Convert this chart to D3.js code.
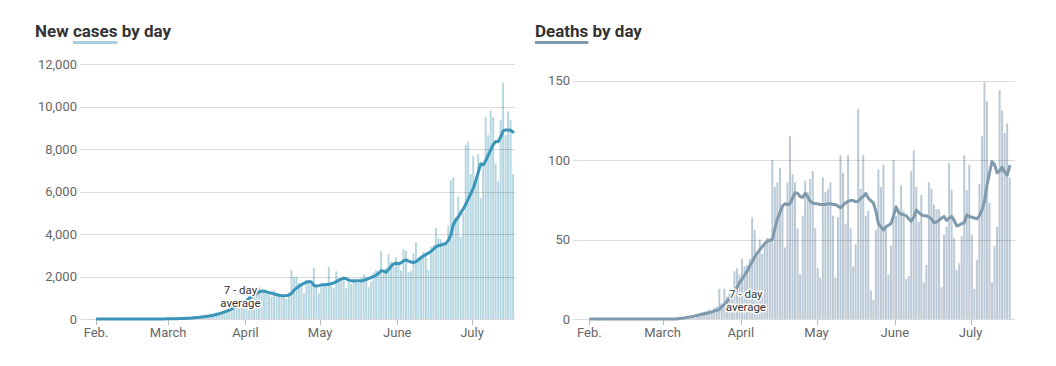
<!DOCTYPE html>
<html><head><meta charset="utf-8">
<script src="https://cdn.jsdelivr.net/npm/d3@7"></script>
<style>
body{margin:0;background:#fff;}
svg text{font-family:Roboto,"Noto Sans",sans-serif;}
</style></head><body>
<svg id="c" width="1056" height="366"></svg>
<script>
// ---------- DATA ----------
const firstDay = new Date(2020, 1, 1);   // Feb 1, 2020 (day index 0)
const monthTicks = [new Date(2020,1,1), new Date(2020,2,1), new Date(2020,3,1), new Date(2020,4,1), new Date(2020,5,1), new Date(2020,6,1)];
const monthLabels = ["Feb.", "March", "April", "May", "June", "July"];
const caseTicks = [0, 2000, 4000, 6000, 8000, 10000, 12000];
const deathTicks = [0, 50, 100, 150];

const casesDaily = [
  // Feb
  0,0,1,0,0,0,0,0,1,0,0,0,0,0,0,0,0,0,0,0,0,0,2,3,4,5,6,8,10,
  // March
  8,10,14,16,20,25,30,38,45,55,65,75,90,105,125,145,165,190,215,245,280,310,350,400,450,500,560,620,700,760,830,
  // April
  900,1100,1200,1250,1300,1500,1350,1300,1250,1200,1050,1350,1150,1100,1100,1050,950,1250,2300,1950,2000,1700,1650,1200,1850,1750,1600,2400,1500,1200,
  // May
  1500,1700,1600,2450,1550,1450,2250,1900,1800,2000,1450,1750,1650,1900,1800,1700,1950,2100,2000,1500,1750,2200,2300,2250,3200,2150,2400,3050,2700,2450,2900,
  // June
  2700,2300,3300,3200,2200,2250,3100,3600,2800,3000,3150,3050,2300,3400,3450,4300,3800,3750,3600,3600,4400,6540,6670,4800,5760,3870,4980,8190,8340,6820,
  // July
  7670,6700,7765,5690,7250,9500,8660,9800,9500,7325,6500,9380,11130,8660,9780,9360,6820
];
const casesAvg = [
  0,0,0,0,0,0,0,0,0,0,0,0,0,0,0,0,0,0,0,0,0,0,1,1,2,3,4,5,7,
  8,10,12,15,18,22,27,33,40,48,57,67,78,92,108,125,145,167,192,220,250,285,325,370,420,475,535,600,670,740,810,
  880,960,1040,1120,1200,1270,1320,1310,1280,1240,1210,1180,1150,1120,1100,1100,1110,1130,1200,1360,1450,1540,1620,1680,1730,1760,1740,1580,1550,1570,
  1600,1610,1620,1640,1660,1700,1760,1830,1880,1920,1900,1830,1800,1790,1800,1800,1790,1820,1860,1900,1960,2000,2060,2150,2270,2250,2200,2330,2480,2590,2620,
  2600,2640,2740,2780,2720,2680,2660,2700,2790,2880,2960,3040,3100,3180,3280,3400,3450,3480,3510,3560,3700,3950,4450,4650,4800,5000,5180,5400,5650,5900,
  6150,6500,6900,7300,7250,7450,7700,7950,8200,8350,8340,8550,8850,8900,8900,8880,8800
];
const deathsDaily = [
  // Feb
  0,0,0,0,0,0,0,0,0,0,0,0,0,0,0,0,0,0,0,0,0,0,0,0,0,0,0,0,0,
  // March
  0,0,0,0,0,0,1,0,1,1,1,2,1,3,2,4,3,5,6,4,7,8,19,10,19,14,16,16,30,32,28,
  // April
  38,33,34,38,64,56,40,50,41,48,51,50,100,83,86,95,70,45,86,115,91,86,57,28,65,87,80,88,93,57,
  // May
  32,26,89,80,82,86,65,26,64,103,92,60,103,57,33,47,132,82,103,65,68,18,12,56,94,83,97,58,28,46,100,
  // June
  65,67,84,68,25,27,93,106,83,61,78,23,34,86,82,72,69,69,20,53,58,98,81,51,31,35,52,103,81,97,
  // July
  53,19,37,85,115,149,137,73,23,46,58,144,131,117,123,89
];
const deathsAvg = [
  0,0,0,0,0,0,0,0,0,0,0,0,0,0,0,0,0,0,0,0,0,0,0,0,0,0,0,0,0,
  0,0,0,0,0,0,0.3,0.5,0.7,1,1.2,1.5,1.8,2.2,2.6,3,3.3,3.6,4,4.5,5,5.5,6,8,9,11,13,15,17,20,23,
  25,27.5,30,33,36,39,41.5,43.5,45.5,47.5,49,49.5,50,57,63,67,71,72.5,72,72.5,76,79.5,79,77,76.5,79,77,74,73,72.5,
  72.5,72,72,72,72.5,72.5,72,72,71,70,71.5,73,74,74.5,74.5,73.8,74,76,77,79,76,74.5,73,68,60,58,56,58,59,60,65,
  70.5,67,66,65.5,65,63,61.5,64,68.5,67,65.5,65,65,64,63,60.5,61,62,63.5,64.5,62,63.5,64.5,62,58.5,59,60,60.5,65.5,
  64.5,64,63.5,63,65,68.5,74,84,92,99,97,92,93,95.5,92.5,90.5,96
];

// ---------- DRAW ----------
const svg = d3.select("#c");
const nDays = casesDaily.length;
const days = d3.range(nDays).map(i => d3.timeDay.offset(firstDay, i));
const lastEdge = d3.timeDay.offset(firstDay, nDays);

function panel(o) {
  const g = svg.append("g");
  const x = d3.scaleTime().domain([firstDay, lastEdge]).range(o.xr);
  const y = d3.scaleLinear().domain([0, d3.max(o.ticks)]).range(o.yr);
  const bw = x(days[1]) - x(days[0]);

  // title
  const t = g.append("text").attr("x", o.tx).attr("y", 37)
    .attr("font-size", 17).attr("font-weight", "bold").attr("fill", "#333");
  o.title.forEach(p => t.append("tspan").text(p));
  const tn = t.node();
  const pre = o.title.slice(0, o.ui).join("");
  const startX = o.tx + (pre.length ? tn.getSubStringLength(0, pre.length) : 0);
  const wLen = tn.getSubStringLength(pre.length, o.title[o.ui].length);
  g.append("rect").attr("x", startX).attr("y", 41).attr("width", wLen).attr("height", 3).attr("fill", o.ucol);

  // bars
  g.append("g").selectAll("rect").data(o.daily).join("rect")
    .attr("x", (d, i) => x(days[i]) + 0.25)
    .attr("width", bw - 0.55)
    .attr("y", d => y(d))
    .attr("height", d => y(0) - y(d))
    .attr("fill", o.barCol);

  // grid
  g.append("g").selectAll("line").data(o.ticks).join("line")
    .attr("x1", o.gx[0]).attr("x2", o.gx[1])
    .attr("y1", d => Math.round(y(d)) + 0.5).attr("y2", d => Math.round(y(d)) + 0.5)
    .attr("stroke", "#000").attr("stroke-opacity", 0.14);
  g.append("g").selectAll("text").data(o.ticks).join("text")
    .attr("x", o.lx).attr("y", d => y(d) + 4.5)
    .attr("text-anchor", "end").attr("font-size", 13).attr("fill", "#666")
    .text(d => d3.format(",")(d));

  // x axis
  g.append("g").selectAll("line").data(monthTicks).join("line")
    .attr("x1", d => Math.round(x(d)) + 0.5).attr("x2", d => Math.round(x(d)) + 0.5)
    .attr("y1", o.yr[0] + 1).attr("y2", o.yr[0] + 6).attr("stroke", "#bbb");
  g.append("g").selectAll("text").data(monthTicks).join("text")
    .attr("x", d => x(d)).attr("y", 337)
    .attr("text-anchor", "middle").attr("font-size", 13).attr("fill", "#666")
    .text((d, i) => monthLabels[i]);

  // avg line
  const line = d3.line().x((d, i) => x(days[i]) + bw / 2).y(d => y(d));
  g.append("path").datum(o.avg).attr("d", line)
    .attr("fill", "none").attr("stroke", o.lineCol).attr("stroke-width", 3)
    .attr("stroke-linejoin", "round").attr("stroke-linecap", "round");

  // annotation (two lines, halo knocks out marks behind)
  const ax = x(d3.timeDay.offset(firstDay, o.labDay));
  ["7 - day", "average"].forEach((s, k) => {
    g.append("text").attr("x", ax).attr("y", o.labY + k * 13)
      .attr("text-anchor", "middle").attr("font-size", 11.5)
      .attr("fill", "#333").attr("stroke", "#fff").attr("stroke-width", 3)
      .attr("paint-order", "stroke").attr("stroke-linejoin", "round")
      .text(s);
  });
}

panel({
  xr: [96, 96 + nDays * 2.49], yr: [319, 64], ticks: caseTicks,
  gx: [80, 515], lx: 77, tx: 35, title: ["New ", "cases", " by day"], ui: 1, ucol: "#a9cfdc",
  daily: casesDaily, avg: casesAvg, barCol: "#b5d6e0", lineCol: "#3a95b9",
  labDay: 58.4, labY: 294
});
panel({
  xr: [589.3, 589.3 + nDays * 2.525], yr: [319, 80.5], ticks: deathTicks,
  gx: [573, 1015], lx: 570, tx: 535, title: ["Deaths", " by day"], ui: 0, ucol: "#7f9aac",
  daily: deathsDaily, avg: deathsAvg, barCol: "#bac9d5", lineCol: "#7f9aad",
  labDay: 62.6, labY: 297.5
});
</script>
</body></html>
